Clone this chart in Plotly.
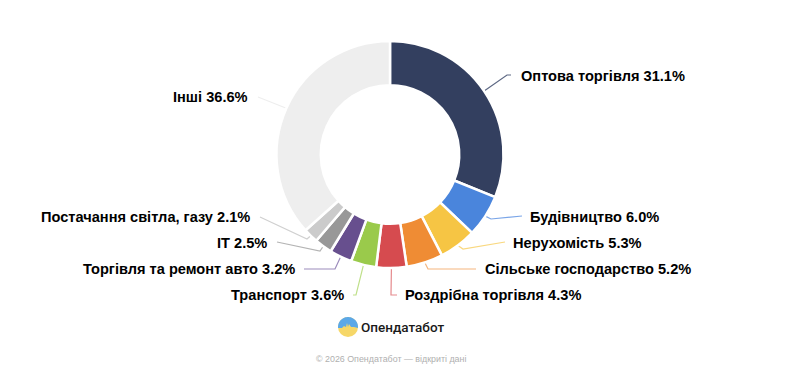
import numpy as np
import plotly.graph_objects as go

W, H = 789, 372

categories = ["Оптова торгівля", "Будівництво", "Нерухомість", "Сільське господарство",
              "Роздрібна торгівля", "Транспорт", "Торгівля та ремонт авто", "IT",
              "Постачання світла, газу", "Інші"]
values = [31.1, 6.0, 5.3, 5.2, 4.3, 3.6, 3.2, 2.5, 2.1, 36.6]
colors = ["#333f5f", "#4a85dc", "#f6c544", "#ef8c34", "#d64b4f",
          "#9aca4b", "#674f8e", "#989898", "#cbcbcb", "#eeeeee"]
leader_colors = ["#5d6884", "#7ba6e8", "#f9d87f", "#f5b67f", "#e58a8d",
                 "#bfe08a", "#9b8bbb", "#b4b4b4", "#d0d0d0", "#eeeeee"]

# page layout, in pixels
CX, CY, R = 390, 154.5, 113.5
# elbow then end of each leader line
leader_paths = [[(507, 75), (511, 75)], [(491, 219), (522, 216)], [(463, 249), (505, 242)],
                [(428, 269), (476, 269)], [(391, 295), (397, 295)], [(356, 295), (353, 295)],
                [(335, 269), (304, 269)], [(320, 251), (277, 242)], [(307, 239), (260, 217)],
                [(258, 97)]]
# text anchor x, y, side
label_pos = [(520, 76, "left"), (529, 216.5, "left"), (512, 243, "left"), (484, 269, "left"),
             (404, 295, "left"), (345, 295, "right"), (296, 269, "right"), (268, 243, "right"),
             (251, 217, "right"), (249, 97, "right")]


def px(x):
    return x / W


def py(y):
    return 1 - y / H


fig = go.Figure(go.Pie(
    labels=categories, values=values, sort=False, direction="clockwise", rotation=0,
    hole=0.61, textinfo="none", hoverinfo="label+percent", showlegend=False,
    marker=dict(colors=colors, line=dict(color="#ffffff", width=2.5)),
    domain=dict(x=[px(CX - R), px(CX + R)], y=[py(CY + R), py(CY - R)]),
))

shapes = []
annotations = []
cum = 0.0
total = sum(values)
for name, v, lc, path, (tx, ty, side) in zip(categories, values, leader_colors, leader_paths, label_pos):
    mid = (cum + v / 2) / total * 2 * np.pi
    cum += v
    sx, sy = CX + R * np.sin(mid), CY - R * np.cos(mid)
    pts = [(sx, sy)] + path
    d = "M " + " L ".join(f"{px(a):.5f},{py(b):.5f}" for a, b in pts)
    shapes.append(dict(type="path", xref="paper", yref="paper", path=d,
                       line=dict(color=lc, width=1.2), layer="below"))
    annotations.append(dict(text=f"<b>{name} {v:.1f}%</b>", x=px(tx), y=py(ty), xref="paper", yref="paper",
                            xanchor=side, yanchor="middle", showarrow=False, borderpad=0,
                            font=dict(family="Liberation Sans", size=14.6, color="#000000")))

# logo mark
LX, LY, LR = 348, 327, 10
shapes.append(dict(type="circle", xref="paper", yref="paper",
                   x0=px(LX - LR), x1=px(LX + LR), y0=py(LY + LR), y1=py(LY - LR),
                   fillcolor="#f6d768", line=dict(width=0)))
edge = [(-10, 1), (-6, 1), (-4, -1), (-2, 0), (-1, -4), (0, 0), (1, -3), (3, 0), (6, 0), (10, 1)]
arc = [(LR * np.cos(t), LR * np.sin(t)) for t in np.linspace(0, -np.pi, 30)]
d = "M " + " L ".join(f"{px(LX + a):.5f},{py(LY + b):.5f}" for a, b in arc + edge) + " Z"
shapes.append(dict(type="path", xref="paper", yref="paper", path=d,
                   fillcolor="#5ba8e8", line=dict(width=0)))

annotations.append(dict(text="Опендатабот", x=px(359), y=py(327), xref="paper", yref="paper",
                        xanchor="left", yanchor="middle", showarrow=False,
                        font=dict(family="Roboto", size=13.5, color="#1a1a1a", weight=500)))
annotations.append(dict(text="© 2026 Опендатабот — відкриті дані", x=px(390.5), y=py(359), xref="paper", yref="paper",
                        xanchor="center", yanchor="middle", showarrow=False,
                        font=dict(family="Liberation Sans", size=8.9, color="#b0b0b0")))

fig.update_layout(width=W, height=H, margin=dict(l=0, r=0, t=0, b=0),
                  paper_bgcolor="#ffffff", plot_bgcolor="#ffffff",
                  shapes=shapes, annotations=annotations)
fig.write_html("out.html", config=dict(displayModeBar=False),
               post_script="document.body.style.margin='0';document.documentElement.style.overflow='hidden';")
